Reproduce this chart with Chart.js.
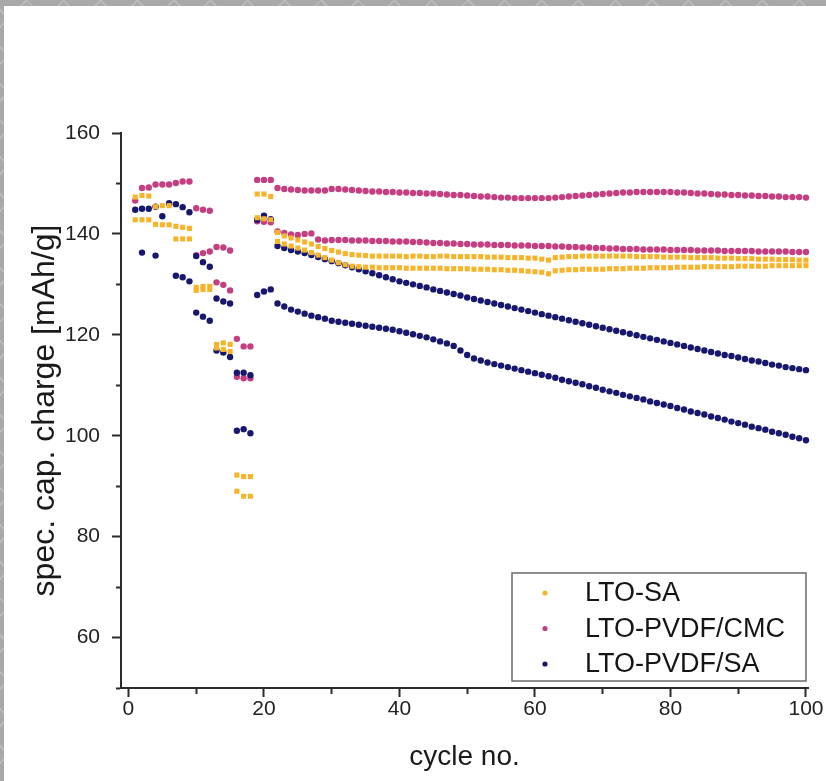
<!DOCTYPE html>
<html>
<head>
<meta charset="utf-8">
<script src="https://cdn.jsdelivr.net/npm/chart.js@4.4.1/dist/chart.umd.min.js"></script>
<style>
    html, body {
        margin: 0;
        padding: 0;
        width: 826px;
        height: 781px;
        overflow: hidden;
        background-color: #a9a9a9;
        background-image:
            repeating-linear-gradient(45deg, transparent 0 24px, #b9b9b9 24px 26px),
            repeating-linear-gradient(-45deg, transparent 0 24px, #b9b9b9 24px 26px);
    }
    #wrap {
        position: absolute;
        left: 4px;
        top: 6px;
        width: 822px;
        height: 775px;
        background: #fff;
    }
</style>
</head>
<body>
<div id="wrap"><canvas id="capacityChart" width="822" height="775"></canvas></div>
<script>
// Values per cycle (index 0 = cycle 1), two cells per material, null = not visible
const ltoSaCellA = [
    147.3, 147.6, 147.5, 145.4, 145.6, 145.6, 141.5, 141.3, 141.1, 129.4,
    129.6, 129.6, 118.1, 118.4, 118.1, 92.2, 91.9, 91.9, 147.9, 147.9,
    147.4, 140.3, 139.6, 139.2, 138.8, 138.4, 138.0, 137.5, 137.1, 136.7,
    136.4, 136.1, 135.9, 135.8, 135.7, 135.6, 135.6, 135.6, 135.6, 135.6,
    135.5, 135.6, 135.6, 135.5, 135.5, 135.6, 135.6, 135.5, 135.5, 135.5,
    135.5, 135.5, 135.4, 135.4, 135.4, 135.3, 135.3, 135.3, 135.2, 135.2,
    135.0, 134.8, 135.3, 135.4, 135.5, 135.5, 135.6, 135.6, 135.6, 135.6,
    135.6, 135.6, 135.6, 135.6, 135.5, 135.5, 135.5, 135.5, 135.4, 135.4,
    135.4, 135.4, 135.3, 135.3, 135.3, 135.3, 135.2, 135.2, 135.2, 135.1,
    135.1, 135.1, 135.0, 135.0, 135.0, 134.9, 134.9, 134.9, 134.8, 134.8
];
const ltoSaCellB = [
    142.8, 142.8, 142.8, 141.9, 141.8, 141.8, 139.0, 139.0, 139.0, 128.8,
    129.0, 129.0, 117.4, 117.1, 116.7, 89.0, 88.0, 88.0, 143.2, 143.0,
    142.8, 138.5, 138.0, 137.6, 137.2, 136.8, 136.3, 135.8, 135.3, 134.8,
    134.3, 133.9, 133.6, 133.5, 133.4, 133.4, 133.3, 133.3, 133.3, 133.3,
    133.2, 133.2, 133.2, 133.2, 133.2, 133.2, 133.1, 133.1, 133.1, 133.1,
    133.0, 133.0, 133.0, 132.9, 132.9, 132.8, 132.8, 132.7, 132.6, 132.5,
    132.4, 132.1, 132.7, 132.8, 132.9, 132.9, 133.0, 133.0, 133.0, 133.0,
    133.1, 133.1, 133.1, 133.2, 133.2, 133.2, 133.3, 133.3, 133.3, 133.3,
    133.4, 133.4, 133.4, 133.4, 133.5, 133.5, 133.5, 133.5, 133.5, 133.6,
    133.6, 133.6, 133.6, 133.6, 133.7, 133.7, 133.7, 133.7, 133.7, 133.7
];
const pvdfCmcCellA = [
    146.6, 149.1, 149.2, 149.8, 149.8, 149.8, 150.1, 150.4, 150.4, 145.1,
    144.8, 144.6, 137.4, 137.3, 136.7, 119.2, 117.7, 117.7, 150.7, 150.7,
    150.7, 149.1, 148.9, 148.8, 148.7, 148.6, 148.6, 148.6, 148.6, 148.9,
    148.9, 148.8, 148.7, 148.6, 148.5, 148.4, 148.4, 148.3, 148.3, 148.2,
    148.2, 148.1, 148.1, 148.0, 148.0, 147.9, 147.8, 147.7, 147.7, 147.6,
    147.5, 147.4, 147.4, 147.3, 147.2, 147.2, 147.1, 147.1, 147.1, 147.1,
    147.1, 147.1, 147.2, 147.3, 147.4, 147.5, 147.6, 147.7, 147.8, 147.9,
    148.0, 148.1, 148.2, 148.2, 148.3, 148.3, 148.3, 148.3, 148.3, 148.3,
    148.2, 148.2, 148.1, 148.0, 148.0, 147.9, 147.8, 147.8, 147.7, 147.7,
    147.6, 147.6, 147.5, 147.5, 147.4, 147.4, 147.3, 147.3, 147.3, 147.2
];
const pvdfCmcCellB = [
    null, null, null, null, null, null, null, null, null, 135.8,
    136.2, 136.5, 130.4, 129.9, 128.8, 111.7, 111.4, 111.4, 142.5, 142.4,
    142.3, 140.5, 140.2, 139.9, 139.8, 140.0, 140.1, 138.9, 138.7, 138.8,
    138.8, 138.8, 138.7, 138.7, 138.7, 138.6, 138.6, 138.6, 138.5, 138.5,
    138.5, 138.4, 138.4, 138.3, 138.2, 138.2, 138.1, 138.1, 138.0, 138.0,
    137.9, 137.9, 137.9, 137.8, 137.8, 137.8, 137.7, 137.7, 137.7, 137.6,
    137.6, 137.6, 137.5, 137.5, 137.4, 137.4, 137.3, 137.3, 137.2, 137.2,
    137.1, 137.1, 137.0, 137.0, 137.0, 136.9, 136.9, 136.9, 136.9, 136.8,
    136.8, 136.8, 136.8, 136.7, 136.7, 136.7, 136.7, 136.6, 136.6, 136.6,
    136.6, 136.6, 136.5, 136.5, 136.5, 136.5, 136.5, 136.4, 136.4, 136.4
];
const pvdfSaCellA = [
    144.8, 145.0, 145.0, 145.4, 143.5, 146.1, 145.9, 145.3, 144.3, 135.6,
    134.4, 133.5, 127.2, 126.6, 126.2, 112.5, 112.5, 112.0, 142.8, 143.6,
    142.9, 137.6, 137.2, 136.8, 136.5, 136.2, 135.8, 135.4, 135.0, 134.6,
    134.2, 133.8, 133.4, 133.0, 132.6, 132.2, 131.8, 131.4, 131.0, 130.6,
    130.3, 130.0, 129.7, 129.4, 129.0, 128.7, 128.4, 128.1, 127.8, 127.4,
    127.1, 126.8, 126.5, 126.2, 125.9, 125.6, 125.3, 125.0, 124.7, 124.4,
    124.1, 123.8, 123.5, 123.2, 122.9, 122.6, 122.3, 122.0, 121.7, 121.4,
    121.1, 120.8, 120.5, 120.2, 119.9, 119.6, 119.3, 119.0, 118.7, 118.4,
    118.1, 117.8, 117.5, 117.2, 116.9, 116.6, 116.3, 116.0, 115.8, 115.5,
    115.2, 114.9, 114.7, 114.4, 114.1, 113.9, 113.6, 113.4, 113.2, 113.0
];
const pvdfSaCellB = [
    null, 136.3, null, 135.7, null, null, 131.7, 131.4, 130.6, 124.4,
    123.6, 122.8, 116.9, 116.5, 115.6, 101.0, 101.3, 100.5, 127.9, 128.6,
    129.0, 126.2, 125.6, 125.0, 124.6, 124.2, 123.8, 123.5, 123.2, 122.8,
    122.6, 122.4, 122.2, 122.0, 121.8, 121.6, 121.4, 121.2, 121.0, 120.7,
    120.4, 120.1, 119.8, 119.5, 119.1, 118.7, 118.3, 117.8, 116.9, 116.0,
    115.3, 114.9, 114.5, 114.2, 113.9, 113.6, 113.3, 113.0, 112.7, 112.4,
    112.1, 111.8, 111.5, 111.1, 110.8, 110.5, 110.2, 109.8, 109.5, 109.1,
    108.8, 108.5, 108.1, 107.8, 107.5, 107.2, 106.8, 106.5, 106.2, 105.9,
    105.5, 105.2, 104.8, 104.5, 104.2, 103.8, 103.5, 103.2, 102.8, 102.5,
    102.2, 101.8, 101.5, 101.2, 100.8, 100.5, 100.2, 99.8, 99.5, 99.1
];

const seriesLabels = ['LTO-SA', 'LTO-PVDF/CMC', 'LTO-PVDF/SA'];
const seriesColors = ['#f6b42a', '#c33f82', '#17176e'];
const yTickLabels = [60, 80, 100, 120, 140, 160];
const xTickLabels = [0, 20, 40, 60, 80, 100];

const FONT = '"Liberation Sans", Arial, Helvetica, sans-serif';
const AXIS_COLOR = '#2b2b2b';

function toPoints(...cells) {
    const points = [];
    cells.forEach(cell => {
        cell.forEach((v, i) => {
            if (v !== null) points.push({ x: i + 1, y: v });
        });
    });
    return points;
}

// legend sits inside the plot, bottom right, with a thin frame
const legendBox = {
    id: 'legendBox',
    afterDraw(chart) {
        const { ctx, chartArea } = chart;
        const w = 294, h = 108;
        const left = chartArea.right - 2 - w;
        const top = chartArea.bottom - 7 - h;

        ctx.save();
        ctx.strokeStyle = '#6a6a6a';
        ctx.lineWidth = 1.5;
        ctx.strokeRect(left, top, w, h);
        ctx.font = `27px ${FONT}`;
        ctx.textBaseline = 'middle';
        ctx.textAlign = 'left';
        chart.data.datasets.forEach((ds, i) => {
            const y = top + 20 + i * 35.5;
            ctx.fillStyle = ds.backgroundColor;
            ctx.beginPath();
            ctx.arc(left + 33, y, 2.6, 0, Math.PI * 2);
            ctx.fill();
            ctx.fillStyle = '#151515';
            ctx.fillText(ds.label, left + 73, y + 1);
        });
        ctx.restore();
    }
};

// minor ticks (odd tens) drawn shorter, only the part next to the axis line
function minorDash(isLeft) {
    return (ctx) => {
        if (ctx.tick && ctx.tick.value % 20 !== 0) {
            return isLeft ? [0, 4, 5, 30] : [5, 30];
        }
        return [];
    };
}

const ctx = document.getElementById('capacityChart').getContext('2d');

new Chart(ctx, {
    type: 'scatter',
    data: {
        datasets: [
            {
                label: seriesLabels[0],
                data: toPoints(ltoSaCellA, ltoSaCellB),
                backgroundColor: seriesColors[0],
                pointStyle: 'rect',
                pointRadius: 3.6,
                borderWidth: 0,
                order: 0
            },
            {
                label: seriesLabels[1],
                data: toPoints(pvdfCmcCellA, pvdfCmcCellB),
                backgroundColor: seriesColors[1],
                pointRadius: 3.2,
                borderWidth: 0,
                order: 2
            },
            {
                label: seriesLabels[2],
                data: toPoints(pvdfSaCellA, pvdfSaCellB),
                backgroundColor: seriesColors[2],
                pointRadius: 3.2,
                borderWidth: 0,
                order: 1
            }
        ]
    },
    options: {
        responsive: false,
        animation: false,
        clip: false,
        layout: {
            padding: { top: 127, right: 18, left: 0, bottom: 0 }
        },
        plugins: {
            legend: { display: false },
            tooltip: { enabled: false }
        },
        scales: {
            x: {
                type: 'linear',
                min: -1.1,
                max: 100.3,
                afterFit: (scale) => { scale.height = 93; },
                ticks: {
                    stepSize: 10,
                    includeBounds: false,
                    padding: 0,
                    color: '#222',
                    font: { family: FONT, size: 21 },
                    callback: (v) => xTickLabels.includes(v) ? String(v) : ''
                },
                grid: {
                    drawOnChartArea: false,
                    drawTicks: true,
                    tickLength: 9,
                    tickWidth: 2,
                    tickColor: AXIS_COLOR,
                    tickBorderDash: minorDash(false)
                },
                border: { display: true, color: AXIS_COLOR, width: 2 },
                title: {
                    display: true,
                    text: 'cycle no.',
                    color: '#1a1a1a',
                    font: { family: FONT, size: 28 },
                    padding: { top: 0, bottom: 7 }
                }
            },
            y: {
                type: 'linear',
                min: 50,
                max: 160,
                afterFit: (scale) => { scale.width = 117; },
                ticks: {
                    stepSize: 10,
                    includeBounds: false,
                    padding: 12,
                    color: '#222',
                    font: { family: FONT, size: 21 },
                    callback: (v) => yTickLabels.includes(v) ? String(v) : ''
                },
                grid: {
                    drawOnChartArea: false,
                    drawTicks: true,
                    tickLength: 9,
                    tickWidth: 2,
                    tickColor: AXIS_COLOR,
                    tickBorderDash: minorDash(true)
                },
                border: { display: true, color: AXIS_COLOR, width: 2 },
                title: {
                    display: true,
                    text: 'spec. cap. charge [mAh/g]',
                    color: '#1a1a1a',
                    font: { family: FONT, size: 32 },
                    padding: { top: 22, bottom: 0 }
                }
            }
        }
    },
    plugins: [legendBox]
});
</script>
</body>
</html>
